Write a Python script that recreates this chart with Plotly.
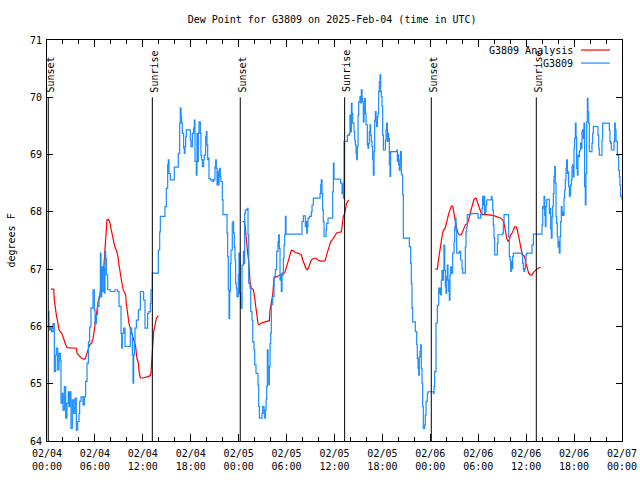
import pandas as pd
import plotly.graph_objects as go

# ---------------- data (hours after 2025-02-04 00:00 UTC, degrees F) ----------------
obs_hours = [0.17, 0.25, 0.42, 0.58, 0.75, 0.92, 1.09, 1.17, 1.34, 1.5, 1.67, 1.75, 1.92, 2.0, 2.17, 2.34, 2.5, 2.67,
             2.75, 2.84, 3.0, 3.17, 3.34, 3.51, 3.67, 3.84, 4.01, 4.09, 4.26, 4.51, 4.67, 4.84, 5.01, 5.18, 5.34, 5.51,
             5.76, 5.93, 6.01, 6.18, 6.34, 6.51, 6.68, 6.76, 6.85, 6.93, 7.1, 7.18, 7.26, 7.35, 7.43, 7.6, 7.93, 8.51,
             8.85, 9.02, 9.27, 9.35, 9.43, 9.6, 9.77, 10.43, 10.6, 10.69, 10.77, 10.85, 10.94, 11.02, 11.19, 11.44,
             11.69, 12.1, 12.27, 12.6, 12.77, 12.94, 13.02, 13.19, 13.94, 14.11, 14.19, 14.77, 14.94, 15.11, 15.19,
             15.27, 15.44, 15.94, 16.44, 16.61, 16.69, 16.78, 16.86, 16.94, 17.11, 17.2, 17.28, 17.36, 17.45, 17.94,
             18.03, 18.2, 18.36, 18.45, 18.53, 18.7, 18.78, 18.86, 18.95, 19.03, 19.2, 19.28, 19.37, 19.45, 19.62,
             19.7, 19.87, 19.95, 20.03, 20.12, 20.2, 20.28, 20.45, 20.7, 20.86, 21.03, 21.12, 21.2, 21.29, 21.37,
             21.45, 21.54, 21.62, 21.7, 21.78, 21.95, 22.04, 22.54, 22.62, 22.7, 22.79, 22.87, 22.96, 23.04, 23.2,
             23.29, 23.37, 23.45, 23.54, 23.62, 23.7, 23.79, 23.96, 24.04, 24.12, 24.25, 24.42, 24.59, 24.67, 24.75,
             24.84, 25.09, 25.17, 25.26, 25.42, 25.51, 25.67, 25.76, 25.92, 26.01, 26.17, 26.42, 26.51, 26.59, 26.92,
             27.01, 27.18, 27.26, 27.34, 27.43, 27.51, 27.59, 27.68, 27.76, 27.84, 27.93, 28.01, 28.09, 28.26, 28.43,
             28.59, 28.76, 28.93, 29.01, 29.09, 29.18, 29.26, 29.34, 29.43, 29.51, 29.6, 29.68, 29.76, 29.85, 29.93,
             31.93, 32.1, 32.35, 32.43, 32.52, 32.6, 32.68, 32.85, 33.1, 33.19, 33.35, 34.19, 34.27, 34.35, 34.44,
             34.52, 34.6, 34.69, 34.94, 35.02, 35.19, 35.77, 35.86, 35.94, 36.77, 36.94, 37.02, 37.11, 37.15, 37.19,
             37.61, 37.86, 37.94, 38.03, 38.11, 38.19, 38.28, 38.44, 38.53, 38.61, 38.7, 38.78, 38.86, 38.95, 39.03,
             39.19, 39.28, 39.36, 39.45, 39.53, 39.61, 39.7, 39.78, 39.86, 39.95, 40.11, 40.2, 40.28, 40.36, 40.45,
             40.53, 40.61, 40.7, 40.78, 40.86, 40.95, 41.03, 41.12, 41.2, 41.28, 41.37, 41.45, 41.53, 41.61, 41.7,
             41.78, 41.87, 41.95, 42.03, 42.12, 42.37, 42.45, 42.53, 42.62, 42.7, 42.78, 42.87, 42.95, 43.03, 43.79,
             43.87, 43.95, 44.03, 44.12, 44.2, 44.28, 44.37, 44.45, 44.54, 44.62, 45.37, 45.54, 45.62, 45.7, 45.79,
             46.12, 46.29, 46.37, 46.46, 46.54, 46.62, 46.7, 46.79, 46.87, 46.96, 47.04, 47.12, 47.29, 47.37, 47.46,
             47.62, 47.71, 48.38, 48.46, 48.54, 48.71, 48.88, 49.05, 49.13, 49.21, 49.3, 49.38, 49.46, 49.55, 49.63,
             49.71, 49.8, 49.88, 49.96, 50.05, 50.13, 50.21, 50.3, 50.38, 50.46, 50.55, 50.63, 50.8, 50.97, 51.05,
             51.13, 51.22, 51.3, 51.63, 51.8, 51.97, 52.05, 52.38, 52.47, 52.55, 52.63, 53.05, 53.55, 53.97, 54.3,
             54.47, 54.55, 54.63, 54.72, 54.8, 54.89, 54.97, 55.06, 55.64, 55.72, 55.81, 55.89, 55.97, 56.06, 56.39,
             56.47, 57.06, 57.14, 57.23, 57.81, 57.89, 57.98, 58.06, 58.14, 58.23, 58.31, 58.39, 59.48, 59.56, 59.65,
             59.73, 59.81, 59.9, 59.98, 60.06, 60.73, 60.9, 61.98, 62.07, 62.15, 62.23, 62.32, 62.4, 62.48, 62.57,
             62.65, 62.9, 62.98, 63.07, 63.15, 63.24, 63.32, 63.4, 63.48, 63.57, 63.65, 63.74, 63.82, 63.9, 63.99,
             64.07, 64.15, 64.24, 64.32, 64.4, 64.49, 64.57, 64.65, 64.74, 64.82, 64.9, 64.99, 65.07, 65.16, 65.24,
             65.32, 65.41, 65.49, 65.57, 65.66, 65.74, 65.82, 65.91, 65.99, 66.07, 66.16, 66.24, 66.32, 66.41, 66.49,
             66.57, 66.66, 66.74, 66.82, 66.91, 66.99, 67.07, 67.16, 67.24, 67.32, 67.41, 67.49, 67.58, 67.66, 67.74,
             67.83, 67.91, 68.24, 68.33, 68.41, 68.99, 69.08, 69.16, 69.49, 69.58, 70.41, 70.49, 70.58, 70.66, 71.0,
             71.08, 71.16, 71.25, 71.42, 71.58, 71.67, 71.75, 71.83, 72.0]
obs_dewpt = [66.26, 65.94, 65.99, 65.91, 66.05, 65.21, 65.5, 65.62, 65.24, 65.53, 65.41, 64.66, 64.83, 64.54, 64.95,
             64.4, 64.66, 64.86, 64.6, 64.86, 64.22, 64.72, 64.48, 64.75, 64.19, 64.34, 64.48, 64.69, 64.77, 64.63,
             64.77, 65.04, 65.36, 65.73, 65.99, 66.32, 66.64, 66.29, 66.05, 66.2, 66.35, 66.52, 67.28, 66.52, 67.04,
             66.61, 67.01, 66.58, 67.31, 67.19, 66.9, 66.64, 66.61, 66.64, 66.61, 66.35, 65.88, 65.62, 65.88, 65.97,
             65.65, 65.97, 65.88, 65.5, 65.01, 65.5, 65.71, 65.97, 66.11, 66.29, 66.61, 66.46, 65.97, 66.23, 66.26,
             66.4, 66.64, 66.93, 67.33, 67.65, 67.92, 68.09, 68.41, 68.82, 68.91, 68.67, 68.56, 68.78, 69.02, 69.55,
             69.81, 69.66, 69.55, 69.37, 69.11, 69.02, 69.14, 69.31, 69.43, 69.25, 69.14, 69.37, 69.46, 69.6, 68.88,
             68.64, 69.37, 68.88, 69.37, 69.57, 69.37, 68.99, 68.91, 68.79, 68.91, 68.99, 69.31, 69.4, 69.17, 68.91,
             68.94, 68.58, 68.56, 68.53, 68.56, 68.79, 68.91, 68.76, 68.47, 68.7, 68.47, 68.73, 68.76, 68.61, 68.53,
             68.21, 67.95, 67.63, 67.22, 66.64, 66.14, 66.61, 67.1, 67.33, 67.8, 67.83, 67.63, 67.39, 67.16, 66.75,
             66.67, 66.52, 66.9, 67.28, 66.58, 66.32, 67.07, 67.31, 67.1, 67.97, 68.03, 68.06, 67.6, 66.75, 66.67,
             66.26, 66.11, 65.73, 65.59, 65.33, 65.18, 64.98, 64.6, 64.4, 64.48, 64.6, 64.48, 64.4, 64.54, 64.72,
             64.95, 65.59, 65.3, 64.98, 65.3, 65.7, 65.88, 66.38, 66.52, 66.87, 66.99, 67.31, 67.48, 67.6, 67.36,
             66.81, 66.9, 66.61, 66.93, 66.9, 67.19, 67.42, 67.6, 67.92, 67.61, 67.83, 67.93, 67.74, 67.83, 67.63,
             67.74, 67.89, 67.92, 68.0, 68.12, 68.24, 68.32, 68.47, 68.56, 68.32, 68.03, 67.83, 67.57, 67.69, 67.8,
             67.89, 68.35, 68.85, 68.57, 68.5, 68.32, 68.47, 68.24, 68.5, 69.23, 69.34, 69.37, 69.69, 69.4, 69.9,
             69.72, 69.55, 69.4, 69.25, 69.17, 69.02, 68.91, 69.14, 69.69, 69.92, 70.01, 69.9, 70.13, 69.98, 69.92,
             69.57, 69.81, 69.98, 69.72, 69.52, 69.17, 69.11, 69.2, 69.4, 69.52, 69.34, 69.23, 69.14, 68.91, 68.64,
             69.05, 69.6, 69.75, 69.57, 69.49, 69.66, 69.72, 70.1, 70.27, 70.39, 70.1, 70.01, 69.84, 69.34, 69.08,
             69.25, 69.43, 69.55, 69.23, 69.37, 69.28, 68.82, 68.62, 69.05, 69.08, 68.88, 69.0, 68.82, 68.73, 68.91,
             69.05, 68.67, 68.64, 68.3, 67.54, 67.39, 67.1, 66.75, 66.32, 66.08, 65.91, 65.68, 65.44, 65.27, 65.15,
             65.47, 65.56, 65.68, 65.27, 65.01, 64.6, 64.22, 64.28, 64.45, 64.69, 64.83, 64.86, 64.83, 64.95, 65.21,
             66.06, 66.37, 66.67, 66.58, 66.67, 66.55, 66.81, 66.98, 66.81, 66.98, 67.42, 66.98, 66.69, 66.58, 66.87,
             67.07, 66.81, 66.61, 66.46, 66.9, 67.04, 66.93, 67.28, 67.48, 67.74, 67.89, 67.68, 67.28, 67.31, 67.16,
             67.01, 66.93, 67.39, 67.65, 67.74, 67.95, 67.97, 67.97, 67.89, 67.95, 68.06, 68.27, 68.12, 68.27, 67.97,
             68.0, 68.12, 68.21, 68.27, 68.21, 68.03, 67.77, 67.54, 67.25, 67.45, 67.6, 67.63, 67.8, 67.95, 67.57,
             67.22, 67.16, 66.96, 67.13, 67.01, 67.22, 67.28, 67.25, 67.1, 66.99, 66.96, 67.01, 67.13, 67.25, 67.28,
             67.42, 67.61, 67.77, 68.09, 68.06, 68.27, 67.94, 67.74, 68.09, 68.21, 68.22, 67.97, 68.06, 67.71, 67.54,
             67.92, 68.09, 68.32, 68.62, 68.79, 68.5, 67.92, 67.8, 67.57, 67.39, 67.48, 67.28, 67.57, 67.83, 68.09,
             67.94, 68.0, 67.94, 68.24, 68.38, 68.56, 68.76, 68.91, 68.67, 68.7, 68.44, 68.27, 68.3, 68.47, 68.56,
             68.79, 68.82, 68.61, 69.11, 69.28, 69.55, 69.31, 68.76, 68.64, 68.99, 68.96, 69.05, 69.08, 69.2, 69.11,
             69.4, 69.43, 69.28, 69.55, 68.44, 68.12, 68.67, 69.57, 69.98, 69.75, 69.55, 69.05, 69.2, 69.37, 69.49,
             69.34, 69.11, 68.99, 69.25, 69.55, 69.43, 69.23, 69.2, 69.08, 69.23, 69.55, 69.43, 69.23, 68.99, 68.73,
             68.61, 68.47, 68.27, 68.2]

# analysis segments (None = gap)
ana_hours = [0.5, 0.84, 0.92, 1.0, 1.17, 1.34, 1.5, 1.67, 1.84, 2.0, 2.17, 2.34, 2.5, 3.09, 3.67, 3.76, 3.92, 4.09,
             4.34, 4.59, 4.76, 4.93, 5.09, 5.34, 5.59, 5.76, 5.93, 6.09, 6.26, 6.43, 6.59, 6.76, 6.93, 7.1, 7.26, 7.35,
             7.43, 7.51, 7.68, 7.85, 8.01, 8.18, 8.35, 8.51, 8.68, 8.85, 9.02, 9.18, 9.35, 9.52, 9.68, 9.85, 9.93,
             10.01, 10.1, 10.27, 10.43, 10.6, 10.77, 10.94, 11.1, 11.19, 11.27, 11.44, 11.52, 11.69, 12.02, 12.52,
             12.94, 13.02, 13.1, 13.19, 13.27, 13.36, 13.5, 13.69, 13.94,
             None,
             24.5, 24.75, 24.84, 24.92, 25.01, 25.09, 25.26, 25.34, 25.42, 25.59, 25.84, 25.92, 26.09, 26.26, 26.42,
             26.59, 26.84, 27.09, 27.34, 27.59, 27.84, 27.93, 28.09, 28.26, 28.43, 28.59, 28.93, 29.18, 29.6, 29.76,
             29.93, 30.1, 30.26, 30.43, 30.6, 30.85, 31.1, 31.43, 31.68, 31.85, 32.02, 32.27, 32.43, 32.6, 32.77,
             32.93, 33.1, 33.44, 33.69, 33.94, 34.27, 34.69, 34.86, 35.02, 35.19, 35.36, 35.52, 35.77, 36.02, 36.27,
             36.44, 36.86, 36.94, 37.11, 37.27, 37.36, 37.52, 37.69, 37.86,
             None,
             48.63, 48.88, 48.96, 49.13, 49.3, 49.46, 49.63, 49.8, 49.96, 50.13, 50.3, 50.46, 50.63, 50.8, 50.88,
             50.97, 51.13, 51.3, 51.46, 51.63, 51.88, 52.05, 52.22, 52.38, 52.63, 52.8, 52.97, 53.14, 53.3, 53.47,
             53.72, 53.89, 54.05, 54.22, 54.39, 54.55, 55.22, 56.06, 56.47, 56.81, 57.06, 57.23, 57.39, 57.56, 57.73,
             57.89, 58.06, 58.23, 58.39, 58.56, 58.73, 58.9, 59.06, 59.23, 59.4, 59.56, 59.81, 59.98, 60.15, 60.31,
             60.48, 60.73, 60.9, 61.07, 61.32, 61.57, 61.8]
ana_dewpt = [66.65, 66.65, 66.46, 66.35, 66.2, 66.08, 65.94, 65.91, 65.88, 65.82, 65.73, 65.68, 65.63, 65.62, 65.62,
             65.53, 65.5, 65.47, 65.44, 65.43, 65.43, 65.5, 65.59, 65.68, 65.71, 65.79, 65.94, 66.11, 66.29, 66.46,
             66.49, 66.7, 66.96, 67.01, 67.33, 67.57, 67.74, 67.86, 67.87, 67.83, 67.71, 67.6, 67.48, 67.38, 67.33,
             67.25, 67.07, 66.9, 66.78, 66.65, 66.59, 66.55, 66.4, 66.3, 66.17, 66.05, 65.97, 65.88, 65.82, 65.71,
             65.65, 65.53, 65.44, 65.36, 65.21, 65.1, 65.1, 65.12, 65.14, 65.19, 65.39, 65.56, 65.76, 65.91, 66.0,
             66.14, 66.19,
             None,
             67.83, 67.83, 67.71, 67.57, 67.39, 67.33, 67.13, 66.96, 66.78, 66.67, 66.64, 66.58, 66.4, 66.23, 66.05,
             66.03, 66.06, 66.07, 66.08, 66.1, 66.1, 66.29, 66.43, 66.55, 66.84, 66.86, 66.88, 66.9, 66.93, 66.94,
             67.01, 67.1, 67.19, 67.25, 67.33, 67.32, 67.29, 67.28, 67.27, 67.25, 67.16, 67.07, 67.01, 66.99, 67.03,
             67.1, 67.16, 67.19, 67.19, 67.16, 67.14, 67.14, 67.16, 67.25, 67.33, 67.42, 67.48, 67.52, 67.57, 67.63,
             67.64, 67.65, 67.74, 67.92, 67.97, 68.06, 68.15, 68.19, 68.19,
             None,
             67.0, 67.0, 67.1, 67.28, 67.48, 67.57, 67.68, 67.7, 67.77, 67.89, 67.97, 68.03, 68.1, 68.1, 68.03,
             67.92, 67.8, 67.71, 67.63, 67.6, 67.6, 67.65, 67.71, 67.77, 67.8, 67.86, 67.97, 68.06, 68.15, 68.22,
             68.24, 68.18, 68.09, 68.03, 67.97, 67.95, 67.95, 67.93, 67.91, 67.89, 67.86, 67.8, 67.68, 67.54, 67.48,
             67.51, 67.6, 67.63, 67.68, 67.74, 67.74, 67.68, 67.57, 67.42, 67.33, 67.25, 67.22, 67.1, 67.01, 66.93,
             66.9, 66.9, 66.94, 66.97, 67.0, 67.02, 67.03]

sun_hours = [0.16, 13.19, 24.2, 37.27, 48.12, 61.27]
sun_labels = ["Sunset", "Sunrise", "Sunset", "Sunrise", "Sunset", "Sunrise"]
sun_line_top = 70.0

tick_hours = [0, 6, 12, 18, 24, 30, 36, 42, 48, 54, 60, 66, 72]
tick_text = ["02/04<br>00:00", "02/04<br>06:00", "02/04<br>12:00", "02/04<br>18:00",
             "02/05<br>00:00", "02/05<br>06:00", "02/05<br>12:00", "02/05<br>18:00",
             "02/06<br>00:00", "02/06<br>06:00", "02/06<br>12:00", "02/06<br>18:00",
             "02/07<br>00:00"]
y_ticks = [64, 65, 66, 67, 68, 69, 70, 71]

series_names = ["G3809 Analysis", "G3809"]
series_colors = ["#ff0000", "#1a8cff"]

# ---------------- build ----------------
base = pd.Timestamp("2025-02-04 00:00")


def to_time(h):
    return None if h is None else base + pd.Timedelta(hours=h)


FONT = "DejaVu Sans Mono"
fig = go.Figure()
fig.add_trace(go.Scatter(x=[to_time(h) for h in ana_hours], y=ana_dewpt, mode="lines",
                         line=dict(color=series_colors[0], width=1.2), connectgaps=False,
                         name=series_names[0], showlegend=False))
fig.add_trace(go.Scatter(x=[to_time(h) for h in obs_hours], y=obs_dewpt, mode="lines",
                         line=dict(color=series_colors[1], width=1.2, shape="hv"),
                         name=series_names[1], showlegend=False))

for h, lab in zip(sun_hours, sun_labels):
    t = to_time(h)
    fig.add_shape(type="line", xref="x", yref="y", x0=t, x1=t, y0=y_ticks[0], y1=sun_line_top,
                  line=dict(color="black", width=1))
    fig.add_annotation(x=t, y=sun_line_top, xref="x", yref="y", text=lab, textangle=-90,
                       showarrow=False, xanchor="center", yanchor="bottom", yshift=3, xshift=2,
                       font=dict(family=FONT, size=10, color="black"))

# legend (gnuplot style: text then sample)
for i, (nm, col) in enumerate(zip(series_names, series_colors)):
    yy = 0.975 - i * 0.0325
    fig.add_annotation(x=0.918, y=yy, xref="paper", yref="paper", text=nm, showarrow=False,
                       xanchor="right", yanchor="middle", font=dict(family=FONT, size=10, color="black"))
    fig.add_shape(type="line", xref="paper", yref="paper", x0=0.9287, x1=0.979, y0=yy, y1=yy,
                  line=dict(color=col, width=1.2))

fig.add_annotation(x=-0.0626, y=0.5, xref="paper", yref="paper", text="degrees F", textangle=-90,
                   showarrow=False, xanchor="center", yanchor="middle",
                   font=dict(family=FONT, size=10, color="black"))

fig.update_layout(
    width=640, height=480,
    margin=dict(l=47, r=18, t=40, b=39, pad=0, autoexpand=False),
    paper_bgcolor="white", plot_bgcolor="white",
    font=dict(family=FONT, size=10, color="black"),
    title=dict(text="Dew Point for G3809 on 2025-Feb-04 (time in UTC)", x=0.519, xref="container",
               xanchor="center", y=1 - 19 / 480, yref="container", yanchor="middle",
               font=dict(family=FONT, size=10, color="black")),
    showlegend=False,
)
fig.update_xaxes(
    range=[to_time(tick_hours[0]), to_time(tick_hours[-1])],
    tickvals=[to_time(h) for h in tick_hours], ticktext=tick_text, automargin=False,
    ticks="inside", ticklen=7, tickcolor="black", showgrid=False, zeroline=False,
    showline=True, linecolor="black", linewidth=1, mirror="ticks", ticklabelstandoff=3,
    minor=dict(dtick=2 * 3600 * 1000, ticks="inside", ticklen=4, tickcolor="black", showgrid=False),
    tickfont=dict(family=FONT, size=10, color="black"),
)
fig.update_yaxes(
    range=[y_ticks[0], y_ticks[-1]], tickvals=y_ticks, automargin=False,
    ticks="inside", ticklen=6, tickcolor="black", showgrid=False, zeroline=False,
    showline=True, linecolor="black", linewidth=1, mirror="ticks", ticklabelstandoff=2,
    tickfont=dict(family=FONT, size=10, color="black"),
)

# remove the page's default 8px body margin so the 640x480 figure fills the window
fig.write_html("out.html", config={"displayModeBar": False},
               post_script="document.body.style.margin='0px';")
